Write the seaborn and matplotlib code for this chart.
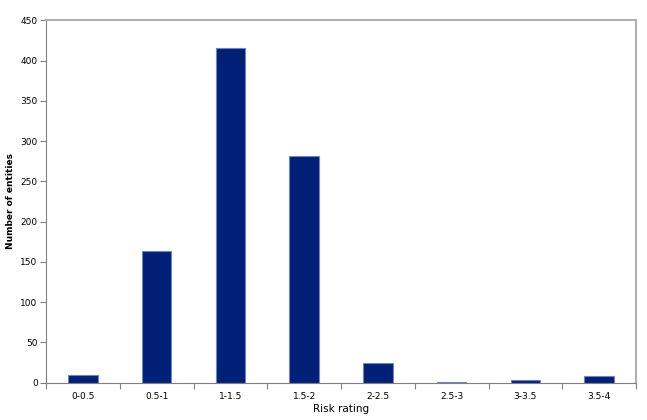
import numpy as np
import pandas as pd
import matplotlib
matplotlib.use('Agg')
import matplotlib.pyplot as plt
import seaborn as sns

categories = ['0-0.5', '0.5-1', '1-1.5', '1.5-2', '2-2.5', '2.5-3', '3-3.5', '3.5-4']
counts = [10, 163, 415, 282, 24, 1, 3, 8]

df = pd.DataFrame({'rating': categories, 'count': counts})

sns.set_style('white', {'xtick.bottom': True, 'ytick.left': True})
plt.rcParams['font.family'] = ['DejaVu Sans']

fig = plt.figure(figsize=(6.47, 4.2), dpi=100)
ax = fig.add_axes([0.0711, 0.0888, 0.912, 0.863])

sns.barplot(data=df, x='rating', y='count', color='#001F77', width=0.4,
            edgecolor='#6F86C0', linewidth=0.8, saturation=1, ax=ax)

ax.set_ylim(0, 450)
ax.set_xlim(-0.5, len(categories) - 0.5)
ax.set_yticks(np.arange(0, 451, 50))
ax.set_xticks(range(len(categories)))
ax.set_xticklabels(categories)
ax.set_xticks(np.arange(-0.5, len(categories), 1), minor=True)
ax.tick_params(axis='x', which='major', length=0, labelsize=6.5, pad=7, labelcolor='black')
ax.tick_params(axis='x', which='minor', bottom=True, length=4, width=0.8,
               color='#808080', direction='out')
ax.tick_params(axis='y', left=True, length=4, width=0.8, color='#808080',
               direction='out', labelsize=6.5, pad=2, labelcolor='black')

for side in ['left', 'bottom', 'top', 'right']:
    ax.spines[side].set_visible(True)
ax.spines['left'].set_color('#808080')
ax.spines['bottom'].set_color('#808080')
ax.spines['top'].set_color('#B0B0B0')
ax.spines['right'].set_color('#B0B0B0')
ax.spines['top'].set_linewidth(1.5)
ax.spines['right'].set_linewidth(1.5)

ax.set_xlabel('Risk rating', fontsize=7.5, labelpad=2, color='black')
ax.set_ylabel('Number of entities', fontsize=6.5, fontweight='bold', labelpad=4, color='black')

fig.savefig('out.png', dpi=100)
